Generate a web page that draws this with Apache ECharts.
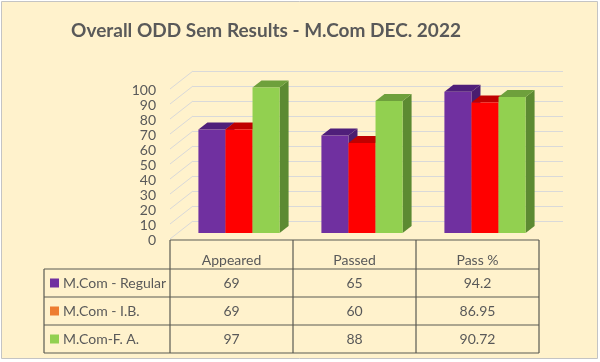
<!DOCTYPE html>
<html>
<head>
<meta charset="utf-8">
<script src="https://cdn.jsdelivr.net/npm/echarts@6/dist/echarts.min.js"></script>
<style>
html,body{margin:0;padding:0;background:#fff;}
#c{width:600px;height:362px;}
</style>
</head>
<body>
<div id="c"></div>
<script>
const categories = ['Appeared', 'Passed', 'Pass %'];
const seriesNames = ['M.Com - Regular', 'M.Com - I.B.', 'M.Com-F. A.'];
const regular = [69, 65, 94.2];
const ib = [69, 60, 86.95];
const fa = [97, 88, 90.72];
const tableText = [['69', '65', '94.2'], ['69', '60', '86.95'], ['97', '88', '90.72']];
const yTicks = [0, 10, 20, 30, 40, 50, 60, 70, 80, 90, 100];

const FONT = 'Lato';
const TXT = '#595959';
const seriesValues = [regular, ib, fa];
const faceColors = [
  { front: '#7030A0', top: '#4F1F7A', side: '#4A1D70' },
  { front: '#FF0000', top: '#C00000', side: '#B80000' },
  { front: '#92D050', top: '#6EA03C', side: '#5C8A32' }
];
const legendColors = ['#7030A0', '#ED7D31', '#92D050'];

const DX = 9, DY = -7, FRONT_SHIFT = -7;

function barRenderer(si) {
  return function (params, api) {
    const idx = api.value(0);
    const v = api.value(1);
    const base = api.coord([idx, 0]);
    const top = api.coord([idx, v]);
    const band = api.size([1, 0])[0];
    const w = band * 0.22;
    const x0 = base[0] - 1.5 * w + 7.5 + si * w;
    const yb = base[1] + FRONT_SHIFT;
    const yt = top[1] + FRONT_SHIFT;
    const c = faceColors[si];
    return {
      type: 'group',
      children: [
        { type: 'polygon', shape: { points: [[x0 + w, yt], [x0 + w + DX, yt + DY], [x0 + w + DX, yb + DY], [x0 + w, yb]] }, style: { fill: c.side } },
        { type: 'polygon', shape: { points: [[x0, yt], [x0 + w, yt], [x0 + w + DX, yt + DY], [x0 + DX, yt + DY]] }, style: { fill: c.top } },
        { type: 'rect', shape: { x: x0, y: yt, width: w, height: yb - yt }, style: { fill: c.front } }
      ]
    };
  };
}

const chart = echarts.init(document.getElementById('c'), null, { renderer: 'canvas' });

const series = [
  {
    type: 'custom',
    xAxisIndex: 0, yAxisIndex: 0,
    silent: true,
    data: yTicks.map(t => [0, t]),
    z: 1,
    renderItem: function (params, api) {
      const p = api.coord([0, api.value(1)]);
      const x = params.coordSys.x;
      return { type: 'line', shape: { x1: x, y1: p[1] - 1, x2: x + 23, y2: p[1] - 19 }, style: { stroke: '#D9D9D9', lineWidth: 1 } };
    }
  }
];
seriesValues.forEach((vals, si) => {
  series.push({
    type: 'custom',
    name: seriesNames[si],
    xAxisIndex: 0, yAxisIndex: 0,
    z: 3 + si,
    data: vals.map((v, i) => [i, v]),
    encode: { x: 0, y: 1 },
    renderItem: barRenderer(si)
  });
});

chart.setOption({
  backgroundColor: '#ffffff',
  animation: false,
  title: {
    text: 'Overall ODD Sem Results - M.Com DEC. 2022',
    left: 261, top: 16, textAlign: 'center',
    textStyle: { fontFamily: FONT, fontSize: 19, fontWeight: 'bold', color: TXT }
  },
  grid: [
    { left: 170, right: 61, top: 90, bottom: 122 },
    { left: 193, right: 37, top: 71, bottom: 141 }
  ],
  xAxis: [
    { type: 'category', gridIndex: 0, data: categories, axisLine: { show: false }, axisTick: { show: false }, axisLabel: { show: false } },
    { type: 'value', gridIndex: 1, show: false, min: 0, max: 1 }
  ],
  yAxis: [
    {
      type: 'value', gridIndex: 0, min: 0, max: 100, interval: 10,
      axisLine: { show: false }, axisTick: { show: false }, splitLine: { show: false },
      axisLabel: { margin: 14, fontFamily: FONT, fontSize: 14, color: TXT }
    },
    {
      type: 'value', gridIndex: 1, min: 0, max: 100, interval: 10,
      axisLine: { show: false }, axisTick: { show: false }, axisLabel: { show: false },
      splitLine: { show: true, lineStyle: { color: '#D9D9D9', width: 1 } }
    }
  ],
  series: series
});

// data table below the chart
const colX = [170, 293, 416, 539];
const rowY = [240, 269, 297, 325, 353];
const labelLeft = 44;
const lineStyle = { stroke: '#5A5A52', lineWidth: 1.2 };
const els = [
  { type: 'rect', z: -100, shape: { x: 1.5, y: 1.5, width: 596, height: 357 }, style: { fill: '#FFF2CC', stroke: '#C4C4C4', lineWidth: 1 } }
];
colX.forEach(x => els.push({ type: 'line', shape: { x1: x, y1: rowY[0], x2: x, y2: rowY[4] }, style: lineStyle }));
els.push({ type: 'line', shape: { x1: labelLeft, y1: rowY[1], x2: labelLeft, y2: rowY[4] }, style: lineStyle });
els.push({ type: 'line', shape: { x1: colX[0], y1: rowY[0], x2: colX[3], y2: rowY[0] }, style: lineStyle });
for (let r = 1; r < rowY.length; r++) {
  els.push({ type: 'line', shape: { x1: labelLeft, y1: rowY[r], x2: colX[3], y2: rowY[r] }, style: lineStyle });
}
const txtStyle = (text, x, y, align) => ({
  type: 'text', x: x, y: y,
  style: { text: text, fontFamily: FONT, fontSize: 14, fill: TXT, align: align || 'center', verticalAlign: 'middle' }
});
categories.forEach((cat, i) => {
  const cx = chart.convertToPixel({ xAxisIndex: 0 }, i);
  els.push(txtStyle(cat, cx, 260));
  for (let s = 0; s < 3; s++) {
    els.push(txtStyle(tableText[s][i], cx, (rowY[s + 1] + rowY[s + 2]) / 2));
  }
});
seriesNames.forEach((name, s) => {
  const cy = (rowY[s + 1] + rowY[s + 2]) / 2;
  els.push({ type: 'rect', shape: { x: 50, y: cy - 4.5, width: 9, height: 9 }, style: { fill: legendColors[s] } });
  els.push(txtStyle(name, 63, cy, 'left'));
});
chart.setOption({ graphic: { elements: els } });
</script>
</body>
</html>
